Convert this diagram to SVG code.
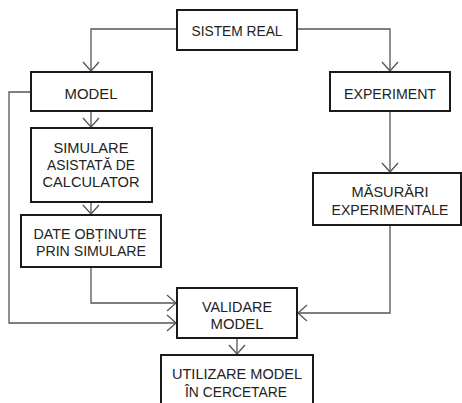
<svg xmlns="http://www.w3.org/2000/svg" width="462" height="403" viewBox="0 0 462 403">
<style>
.box{fill:#fff;stroke:#1a1a1a;stroke-width:2}
.lbl{font-family:"Liberation Sans",Arial,sans-serif;font-size:14.8px;fill:#222;text-anchor:middle}
.con{fill:none;stroke:#555;stroke-width:1.3}
</style>
<defs>
<marker id="arr" viewBox="-11 -10 12 20" refX="0" refY="0" markerWidth="12" markerHeight="20" markerUnits="userSpaceOnUse" orient="auto">
<path d="M-9,-8 L0,0 L-9,8" fill="none" stroke="#555" stroke-width="1.3"/>
</marker>
</defs>
<rect width="462" height="403" fill="#fff"/>
<g id="connectors">
<path class="con" d="M177,29 H91 V71" marker-end="url(#arr)"/>
<path class="con" d="M297,29 H390 V71" marker-end="url(#arr)"/>
<path class="con" d="M91,111 V127" marker-end="url(#arr)"/>
<path class="con" d="M91,202 V214" marker-end="url(#arr)"/>
<path class="con" d="M390,111 V172" marker-end="url(#arr)"/>
<path class="con" d="M31,92 H9 V323 H176" marker-end="url(#arr)"/>
<path class="con" d="M91,267 V303 H176" marker-end="url(#arr)"/>
<path class="con" d="M390,225 V313 H298" marker-end="url(#arr)"/>
<path class="con" d="M237,338 V354" marker-end="url(#arr)"/>
</g>
<g id="sistem-real">
<rect class="box" x="177" y="10" width="120" height="40"/>
<text class="lbl" x="237" y="36" textLength="91" lengthAdjust="spacingAndGlyphs">SISTEM REAL</text>
</g>
<g id="model">
<rect class="box" x="31" y="72" width="121" height="39"/>
<text class="lbl" x="91" y="98.5" textLength="53" lengthAdjust="spacingAndGlyphs">MODEL</text>
</g>
<g id="experiment">
<rect class="box" x="330" y="72" width="120" height="39"/>
<text class="lbl" x="390" y="98.5" textLength="92" lengthAdjust="spacingAndGlyphs">EXPERIMENT</text>
</g>
<g id="simulare">
<rect class="box" x="31" y="128" width="121" height="74"/>
<text class="lbl" x="91" y="152.5" textLength="75" lengthAdjust="spacingAndGlyphs">SIMULARE</text>
<text class="lbl" x="91" y="169.5" textLength="88" lengthAdjust="spacingAndGlyphs">ASISTATĂ DE</text>
<text class="lbl" x="91" y="186.5" textLength="97" lengthAdjust="spacingAndGlyphs">CALCULATOR</text>
</g>
<g id="date">
<rect class="box" x="21" y="215" width="140" height="52"/>
<text class="lbl" x="90" y="238.5" textLength="113" lengthAdjust="spacingAndGlyphs">DATE OBȚINUTE</text>
<text class="lbl" x="91" y="256" textLength="110" lengthAdjust="spacingAndGlyphs">PRIN SIMULARE</text>
</g>
<g id="masurari">
<rect class="box" x="313" y="173" width="148" height="52"/>
<text class="lbl" x="390" y="197" textLength="77" lengthAdjust="spacingAndGlyphs">MĂSURĂRI</text>
<text class="lbl" x="390" y="215" textLength="117" lengthAdjust="spacingAndGlyphs">EXPERIMENTALE</text>
</g>
<g id="validare">
<rect class="box" x="177" y="288" width="120" height="50"/>
<text class="lbl" x="237" y="311.5" textLength="70" lengthAdjust="spacingAndGlyphs">VALIDARE</text>
<text class="lbl" x="237" y="329" textLength="53" lengthAdjust="spacingAndGlyphs">MODEL</text>
</g>
<g id="utilizare">
<rect class="box" x="161" y="355" width="152" height="52"/>
<text class="lbl" x="237" y="379" textLength="130" lengthAdjust="spacingAndGlyphs">UTILIZARE MODEL</text>
<text class="lbl" x="236" y="397" textLength="102" lengthAdjust="spacingAndGlyphs">ÎN CERCETARE</text>
</g>
</svg>
